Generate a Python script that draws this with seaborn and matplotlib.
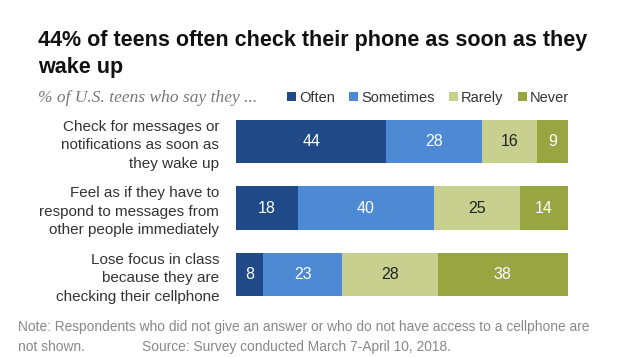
import matplotlib
matplotlib.use("Agg")
import matplotlib.pyplot as plt
import seaborn as sns
import pandas as pd
import numpy as np
from matplotlib.patches import Patch

categories = [
    "Check for messages or\nnotifications as soon as\nthey wake up",
    "Feel as if they have to\nrespond to messages from\nother people immediately",
    "Lose focus in class\nbecause they are\nchecking their cellphone",
]
series = ["Often", "Sometimes", "Rarely", "Never"]
often = [44, 18, 8]
sometimes = [28, 40, 23]
rarely = [16, 25, 28]
never = [9, 14, 38]
colors = ["#1f4a87", "#4e8ad4", "#c8d08f", "#98a642"]
label_colors = ["white", "white", "#222222", "white"]

sns.set_theme(style="white")
plt.rcParams["font.family"] = ["Liberation Sans", "DejaVu Sans"]

df = pd.DataFrame({"category": categories, "Often": often, "Sometimes": sometimes,
                   "Rarely": rarely, "Never": never})
vals = df[series].to_numpy(dtype=float)
cum = np.cumsum(vals, axis=1)

fig = plt.figure(figsize=(6.35, 3.57), dpi=100)
ax = fig.add_axes([236 / 635, 1 - 307.75 / 357, 342 / 635, 199.5 / 357])

# draw cumulative bars from the largest to the smallest so they stack
for i in reversed(range(len(series))):
    tmp = pd.DataFrame({"category": categories, "value": cum[:, i]})
    sns.barplot(data=tmp, x="value", y="category", color=colors[i], ax=ax,
                width=0.65, saturation=1, orient="h", linewidth=0)

for r in range(len(categories)):
    for i in range(len(series)):
        start = cum[r, i] - vals[r, i]
        ax.text(start + vals[r, i] / 2, r, f"{int(vals[r, i])}", ha="center", va="center",
                color=label_colors[i], fontsize=11.5)

ax.set_xlim(0, 100)
ax.set_ylim(2.5, -0.5)
ax.set_xlabel("")
ax.set_ylabel("")
ax.set_xticks([])
ax.tick_params(axis="y", length=0, pad=12)
ax.set_yticks(range(len(categories)))
ax.set_yticklabels(categories, fontsize=11, color="#333333", linespacing=1.4)
for s in ax.spines.values():
    s.set_visible(False)

handles = [Patch(facecolor=c, edgecolor="none") for c in colors]
fig.legend(handles, series, loc="center left", bbox_to_anchor=(280 / 635, 1 - 98 / 357),
           ncol=4, frameon=False, fontsize=10.5, handlelength=0.6, handleheight=0.6,
           handletextpad=0.2, columnspacing=1.0, labelcolor="#333333", borderpad=0)

fig.text(38 / 635, 1 - 54 / 357, "44% of teens often check their phone as soon as they\nwake up",
         fontsize=15.5, fontweight="bold", color="#111111", ha="left", va="center",
         linespacing=1.4)
fig.text(38 / 635, 1 - 98 / 357, "% of U.S. teens who say they ...", fontsize=12.5,
         style="italic", family=["Liberation Serif", "DejaVu Serif"], color="#777777",
         ha="left", va="center")
fig.text(18 / 635, 1 - 327 / 357,
         "Note: Respondents who did not give an answer or who do not have access to a cellphone are",
         fontsize=9.9, color="#888888", ha="left", va="center")
fig.text(18 / 635, 1 - 347 / 357, "not shown.", fontsize=9.9, color="#888888", ha="left", va="center")
fig.text(142 / 635, 1 - 347 / 357, "Source: Survey conducted March 7-April 10, 2018.",
         fontsize=9.9, color="#888888", ha="left", va="center")

fig.savefig("out.png", dpi=100)
